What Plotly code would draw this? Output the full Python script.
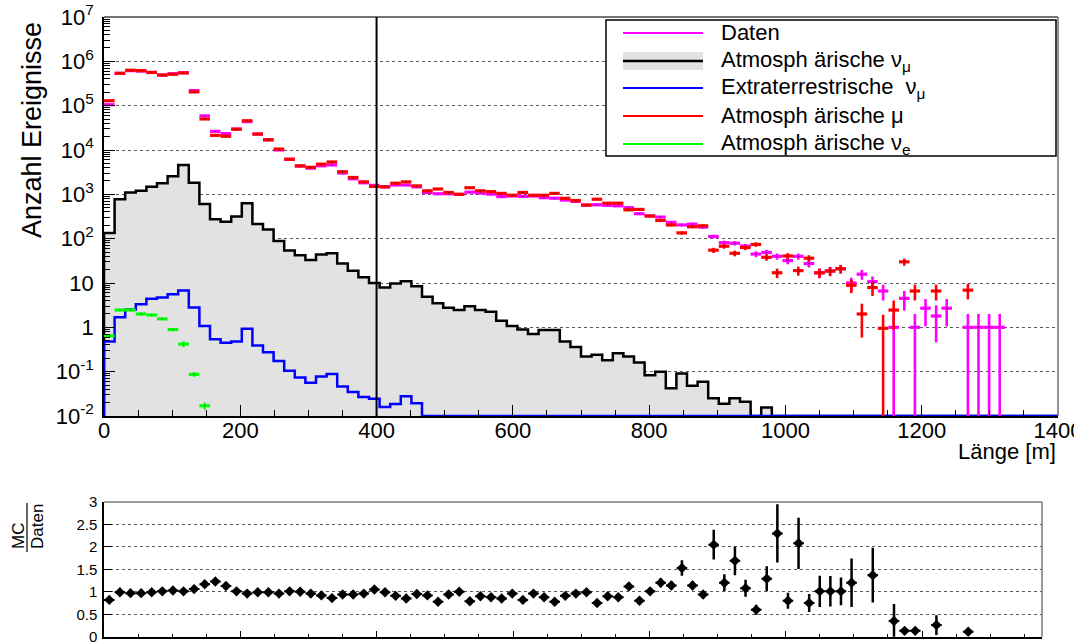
import numpy as np
import plotly.graph_objects as go

W, H = 1074, 643

# ---- binning: 90 bins of track length between 0 and 1400 m ----
x_min, x_max, n_bins = 0.0, 1400.0, 90

# Data (Daten), events per bin
data_counts = [
    105000, 534000, 617000, 603000, 560000, 492000, 525000, 552000, 219000, 58900,
    26300, 23400, 29600, 43700, 22900, 17000, 10000, 6200, 4370, 3890,
    4400, 4600, 3020, 2240, 1820, 1590, 1470, 1620, 1620, 1470,
    1100, 1030, 1030, 1000, 1120, 1070, 1010, 890, 917, 900,
    917, 840, 818, 741, 692, 569, 582, 562, 550, 500,
    365, 327, 307, 234, 204, 213, 182, 112, 81, 79,
    68, 45, 49, 40, 32, 40, 27.5, 17, 18.7, 21,
    10, 15.8, 10.7, 6.6, 1, 4.5, 1, 2.7, 1.8, 2.7,
    0, 1, 1, 1, 1, 0, 0, 0, 0, 0,
]

# Atmospheric muons (simulation)
atm_mu = [
    129000, 537000, 631000, 617000, 562000, 490000, 513000, 550000, 204000, 50100,
    21400, 20400, 29500, 45700, 22900, 17000, 10500, 6170, 4370, 4070,
    4790, 5370, 3240, 2400, 1910, 1510, 1480, 1780, 1910, 1550,
    1200, 1320, 1100, 1000, 1410, 1200, 1150, 1050, 955, 1100,
    955, 955, 1050, 813, 724, 575, 776, 631, 631, 447,
    457, 324, 257, 204, 135, 186, 195, 55, 67.6, 46.8,
    63.1, 74.1, 38, 17, 40.7, 19, 36.3, 17, 18.6, 20.9,
    8.9, 2.0, 7.9, 0.95, 2.45, 30, 6.6, 0, 6.6, 0,
    0, 6.9, 0, 0, 0, 0, 0, 0, 0, 0,
]

# Atmospheric muon neutrinos (simulation)
atm_numu = [
    135, 776, 1100, 1200, 1480, 1780, 2570, 4570, 1820, 603,
    275, 240, 316, 631, 214, 162, 89, 54, 42, 33,
    44, 47, 27.5, 19, 13.5, 10, 7.9, 9.8, 11, 8.5,
    4.9, 3.5, 2.75, 2.45, 3.0, 2.45, 2.24, 1.41, 1.07, 0.89,
    0.71, 0.87, 0.87, 0.48, 0.36, 0.22, 0.24, 0.18, 0.26, 0.22,
    0.16, 0.083, 0.10, 0.042, 0.091, 0.048, 0.059, 0.025, 0.019, 0.025,
    0.021, 0, 0.0155, 0, 0, 0, 0, 0, 0, 0,
    0, 0, 0, 0, 0, 0, 0, 0, 0, 0,
    0, 0, 0, 0, 0, 0, 0, 0, 0, 0,
]

# Extraterrestrial muon neutrinos (simulation)
astro_numu = [
    0.48, 1.68, 2.54, 3.3, 4.4, 4.7, 5.6, 6.8, 2.8, 1.07,
    0.54, 0.45, 0.48, 0.93, 0.39, 0.275, 0.174, 0.105, 0.074, 0.056,
    0.078, 0.089, 0.046, 0.035, 0.027, 0.0245, 0.016, 0.0186, 0.028, 0.0195,
] + [0] * 60

# Atmospheric electron neutrinos (simulation), first bins only
atm_nue = [0.64, 2.46, 2.46, 2.0, 1.9, 1.55, 0.89, 0.42, 0.087, 0.017]
atm_nue_err = [0.05, 0.1, 0.1, 0.08, 0.08, 0.07, 0.05, 0.06, 0.01, 0.003]

# Ratio panel
ratio = [
    0.82, 0.99, 0.97, 0.97, 0.99, 1.01, 1.03, 1.01, 1.06, 1.17,
    1.23, 1.13, 1.01, 0.96, 0.99, 0.99, 0.96, 1.01, 1.00, 0.96,
    0.92, 0.86, 0.94, 0.94, 0.96, 1.05, 0.99, 0.91, 0.85, 0.95,
    0.92, 0.78, 0.94, 1.00, 0.79, 0.90, 0.88, 0.85, 0.96, 0.82,
    0.96, 0.88, 0.78, 0.91, 0.96, 0.99, 0.75, 0.90, 0.88, 1.12,
    0.80, 1.01, 1.20, 1.14, 1.53, 1.14, 0.94, 2.05, 1.20, 1.69,
    1.08, 0.60, 1.29, 2.30, 0.80, 2.08, 0.75, 1.01, 1.01, 1.01,
    1.20, None, 1.37, None, 0.35, 0.13, 0.13, None, 0.26, None,
    None, 0.11, None, None, None, None, None, None, None, None,
]
ratio_err = [
    0.02, 0.02, 0.02, 0.02, 0.02, 0.02, 0.02, 0.02, 0.02, 0.02,
    0.02, 0.02, 0.02, 0.02, 0.02, 0.02, 0.02, 0.02, 0.02, 0.02,
    0.02, 0.02, 0.02, 0.02, 0.02, 0.02, 0.02, 0.02, 0.02, 0.02,
    0.03, 0.03, 0.03, 0.03, 0.03, 0.03, 0.03, 0.03, 0.03, 0.03,
    0.03, 0.03, 0.03, 0.03, 0.03, 0.05, 0.05, 0.05, 0.05, 0.09,
    0.06, 0.07, 0.10, 0.10, 0.17, 0.10, 0.08, 0.33, 0.19, 0.32,
    0.19, 0.11, 0.28, 0.65, 0.18, 0.57, 0.20, 0.35, 0.34, 0.31,
    0.54, 0, 0.61, 0, 0.38, 0.06, 0.06, 0, 0.22, 0,
    0, 0.06, 0, 0, 0, 0, 0, 0, 0, 0,
]

y_log_min, y_log_max = -2, 7
ratio_x_max = 1376

edges = np.linspace(x_min, x_max, n_bins + 1)
centers = 0.5 * (edges[:-1] + edges[1:])
half_w = 0.5 * (edges[1] - edges[0])
floor = 10 ** y_log_min


def px(p):
    return p / W


def py(p):
    return 1 - p / H


def step_xy(vals):
    xs, ys = [edges[0]], [floor]
    for i, v in enumerate(vals):
        y = v if v > 0 else floor
        xs += [edges[i], edges[i + 1]]
        ys += [y, y]
    xs.append(edges[-1])
    ys.append(floor)
    return xs, ys


def point_trace(vals, color, errs=None):
    xs, ys, ey = [], [], []
    for i, v in enumerate(vals):
        if v is None or v <= 0:
            continue
        xs.append(centers[i])
        ys.append(v)
        ey.append(np.sqrt(v) if errs is None else errs[i])
    return go.Scatter(
        x=xs, y=ys, mode="markers",
        marker=dict(size=1, color="black"),
        error_x=dict(type="constant", value=half_w, color=color, thickness=3.2, width=0),
        error_y=dict(type="data", array=ey, color=color, thickness=2.6, width=0),
        showlegend=False, hoverinfo="skip", xaxis="x", yaxis="y",
    )


fig = go.Figure()

# atmospheric numu: filled grey histogram with black outline
bx, by = step_xy(atm_numu)
fig.add_trace(go.Scatter(
    x=bx, y=by, mode="lines", fill="toself", fillcolor="rgb(226,226,226)",
    line=dict(color="black", width=2.5), showlegend=False, hoverinfo="skip",
))

# extraterrestrial numu: blue histogram outline
ax_, ay_ = step_xy(astro_numu)
fig.add_trace(go.Scatter(
    x=ax_, y=ay_, mode="lines", line=dict(color="rgb(0,0,255)", width=2.5),
    showlegend=False, hoverinfo="skip",
))

# atmospheric nue
fig.add_trace(point_trace(atm_nue, "rgb(0,255,0)", atm_nue_err))
# data, then atmospheric muons on top
fig.add_trace(point_trace(data_counts, "rgb(255,0,255)"))
fig.add_trace(point_trace(atm_mu, "rgb(255,0,0)"))

# ratio panel
rx, ry, re = [], [], []
for i, r in enumerate(ratio):
    if r is None:
        continue
    rx.append(centers[i])
    ry.append(r)
    re.append(ratio_err[i])
fig.add_trace(go.Scatter(
    x=rx, y=ry, mode="markers",
    marker=dict(symbol="diamond", size=8, color="black"),
    error_x=dict(type="constant", value=half_w, color="black", thickness=2, width=0),
    error_y=dict(type="data", array=re, color="black", thickness=2.5, width=0),
    xaxis="x2", yaxis="y2", showlegend=False, hoverinfo="skip",
))

font_family = "Liberation Sans, Arial, sans-serif"

y_tickvals = [10.0 ** e for e in range(y_log_min, y_log_max + 1)]
y_ticktext = ["10<sup>-2</sup>", "10<sup>-1</sup>", "1", "10"] + \
             ["10<sup>%d</sup>" % e for e in range(2, 8)]
y_minor = [k * 10.0 ** e for e in range(y_log_min, y_log_max) for k in range(2, 10)]

fig.update_layout(
    width=W, height=H,
    margin=dict(l=0, r=0, t=0, b=0, pad=0),
    paper_bgcolor="white", plot_bgcolor="white",
    font=dict(family=font_family, color="black"),
    xaxis=dict(
        domain=[px(104), px(1058)], range=[x_min, x_max], anchor="y",
        automargin=False, ticklabeloverflow="allow", ticklabelstandoff=-6,
        showline=True, linecolor="black", linewidth=1.5, mirror=False,
        ticks="inside", ticklen=11, tickwidth=1.2, tickcolor="black",
        tickvals=list(range(0, 1401, 200)),
        ticktext=[str(v) for v in range(0, 1401, 200)],
        tickfont=dict(size=22), showgrid=False, zeroline=False,
        minor=dict(ticks="inside", ticklen=6, tickwidth=1.2, tickcolor="black",
                   tickvals=[v for v in range(50, 1400, 50) if v % 200]),
    ),
    yaxis=dict(
        domain=[py(416), py(17)], type="log", range=[y_log_min, y_log_max], anchor="x",
        automargin=False, ticklabeloverflow="allow", ticklabelstandoff=4,
        showline=True, linecolor="black", linewidth=1.5, mirror=False,
        ticks="inside", ticklen=11, tickwidth=1.2, tickcolor="black",
        tickvals=y_tickvals, ticktext=y_ticktext, tickfont=dict(size=22),
        showgrid=True, gridcolor="rgb(90,90,90)", griddash="dot", gridwidth=1,
        zeroline=False,
        minor=dict(ticks="inside", ticklen=6, tickwidth=1, tickcolor="black",
                   tickvals=y_minor, showgrid=False),
    ),
    xaxis2=dict(
        domain=[px(104), px(1042)], range=[0, ratio_x_max], anchor="y2",
        automargin=False,
        showline=True, linecolor="black", linewidth=1.5,
        ticks="inside", ticklen=6, tickwidth=1.2, tickcolor="black",
        tickvals=list(range(0, 1400, 200)), showticklabels=False,
        showgrid=False, zeroline=False,
        minor=dict(ticks="inside", ticklen=3, tickwidth=1.2, tickcolor="black",
                   tickvals=[v for v in range(50, 1400, 50) if v % 200]),
    ),
    yaxis2=dict(
        domain=[py(636.7), py(502)], range=[0, 3], anchor="x2",
        automargin=False, ticklabeloverflow="allow", ticklabelstandoff=2,
        showline=True, linecolor="black", linewidth=1.5,
        ticks="inside", ticklen=8, tickwidth=1.2, tickcolor="black",
        tickvals=[0, 0.5, 1, 1.5, 2, 2.5, 3],
        ticktext=["0", "0.5", "1", "1.5", "2", "2.5", "3"],
        tickfont=dict(size=15),
        showgrid=True, gridcolor="rgb(90,90,90)", griddash="dot", gridwidth=1,
        zeroline=False,
    ),
)

shapes = []
# frame top/right of both panels
shapes.append(dict(type="line", xref="paper", yref="paper", x0=px(104), x1=px(1058),
                   y0=py(17), y1=py(17), line=dict(color="rgb(70,70,70)", width=1.5)))
shapes.append(dict(type="line", xref="paper", yref="paper", x0=px(1058), x1=px(1058),
                   y0=py(17), y1=py(416), line=dict(color="rgb(110,110,110)", width=1.5)))
shapes.append(dict(type="line", xref="paper", yref="paper", x0=px(104), x1=px(1042),
                   y0=py(502), y1=py(502), line=dict(color="rgb(120,120,120)", width=1.5)))
shapes.append(dict(type="line", xref="paper", yref="paper", x0=px(1042), x1=px(1042),
                   y0=py(502), y1=py(636.7), line=dict(color="rgb(120,120,120)", width=1.5)))
# cut at 400 m
shapes.append(dict(type="line", xref="x", yref="y domain", x0=400, x1=400, y0=0, y1=1,
                   line=dict(color="black", width=2), layer="above"))

# legend box
shapes.append(dict(type="rect", xref="paper", yref="paper",
                   x0=px(606), x1=px(1056), y0=py(156), y1=py(20),
                   line=dict(color="black", width=1.5), fillcolor="white", layer="above"))
leg_x0, leg_x1, leg_tx = 623, 703, 719
legend_rows = [
    (33, "rgb(255,0,255)", 2, "Daten", False),
    (61, "black", 2.5, "Atmosph ärische ν<sub>μ</sub>", True),
    (88, "rgb(0,0,255)", 2, "Extraterrestrische\u00a0 ν<sub>μ</sub>", False),
    (116, "rgb(255,0,0)", 2, "Atmosph ärische μ", False),
    (144, "rgb(0,255,0)", 2, "Atmosph ärische ν<sub>e</sub>", False),
]
annotations = []
for yy, col, lw, label, filled in legend_rows:
    if filled:
        shapes.append(dict(type="rect", xref="paper", yref="paper",
                           x0=px(leg_x0), x1=px(leg_x1), y0=py(70), y1=py(52),
                           line=dict(width=0), fillcolor="rgb(226,226,226)", layer="above"))
    shapes.append(dict(type="line", xref="paper", yref="paper",
                       x0=px(leg_x0), x1=px(leg_x1), y0=py(yy), y1=py(yy),
                       line=dict(color=col, width=lw), layer="above"))
    annotations.append(dict(xref="paper", yref="paper", x=px(leg_tx), y=py(yy),
                            xanchor="left", yanchor="middle", showarrow=False,
                            text=label, font=dict(size=22)))

# fraction label of ratio panel
shapes.append(dict(type="line", xref="paper", yref="paper", x0=px(27), x1=px(27),
                   y0=py(503), y1=py(552), line=dict(color="black", width=1.2)))

annotations += [
    dict(xref="paper", yref="paper", x=px(32), y=py(130), text="Anzahl Ereignisse",
         textangle=-90, showarrow=False, font=dict(size=27),
         xanchor="center", yanchor="middle"),
    dict(xref="paper", yref="paper", x=px(1058), y=py(452), text="Länge [m]",
         showarrow=False, font=dict(size=22), xanchor="right", yanchor="middle"),
    dict(xref="paper", yref="paper", x=px(18), y=py(536), text="MC",
         textangle=-90, showarrow=False, font=dict(size=17),
         xanchor="center", yanchor="middle"),
    dict(xref="paper", yref="paper", x=px(37), y=py(527), text="Daten",
         textangle=-90, showarrow=False, font=dict(size=17),
         xanchor="center", yanchor="middle"),
]

fig.update_layout(shapes=shapes, annotations=annotations)
fig.write_html("out.html")
